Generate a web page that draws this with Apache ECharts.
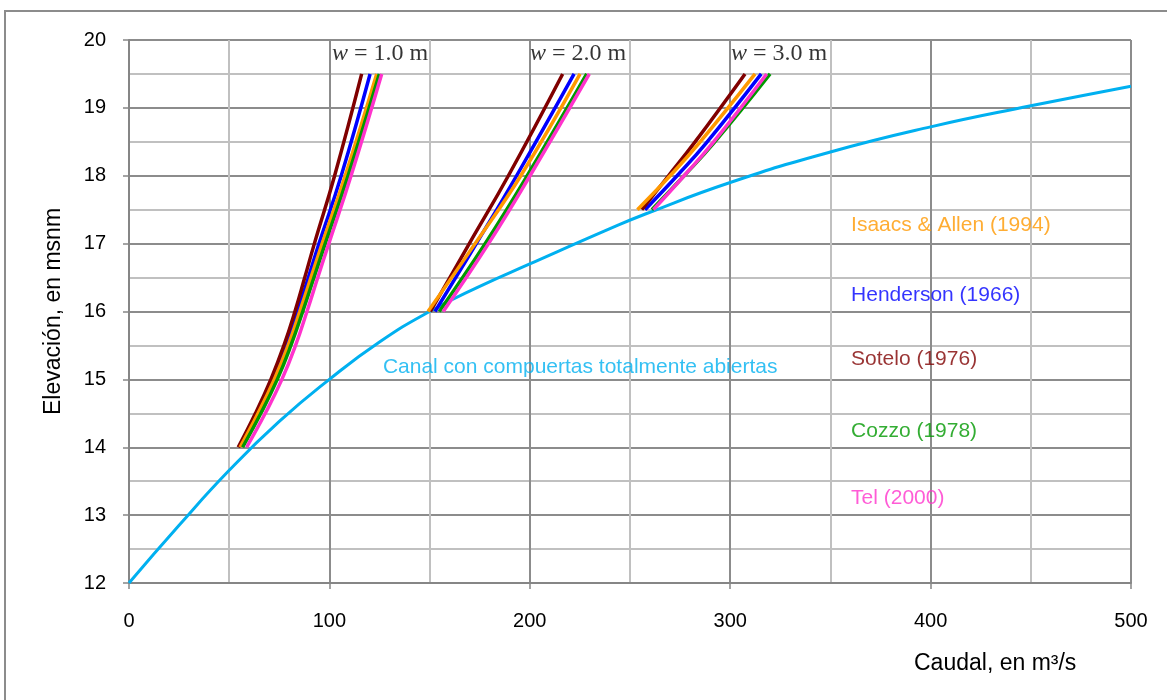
<!DOCTYPE html>
<html><head><meta charset="utf-8">
<script src="https://cdn.jsdelivr.net/npm/echarts@6/dist/echarts.min.js"></script>
<style>html,body{margin:0;padding:0;background:#fff}#c{width:1167px;height:700px}</style>
</head><body><div id="c"></div>
<script>
// Canal con compuertas totalmente abiertas: [caudal, elevación]
const canal = [[0,12],[25,12.85],[50,13.66],[75,14.38],[100,15],[125,15.55],[150,16],[175,16.37],[200,16.7],[240,17.22],[258,17.44],[300,17.9],[350,18.35],[400,18.72],[450,19.03],[500,19.32]];

// w = 1.0 m
const sotelo1 = [[54.5,14],[63.1,14.5],[70.8,15],[77.3,15.5],[82.8,16],[87.7,16.5],[92.5,17],[102.6,18],[116.1,19.5]];
const hend1   = [[55.0,14],[63.8,14.5],[71.7,15],[78.4,15.5],[84.1,16],[89.5,16.5],[94.8,17],[105.9,18],[120.3,19.5]];
const isaacs1 = [[55.4,14],[64.4,14.5],[72.5,15],[79.4,15.5],[85.2,16],[90.8,16.5],[96.4,17],[107.9,18],[123.6,19.5]];
const cozzo1  = [[56.7,14],[65.8,14.5],[74.0,15],[80.8,15.5],[86.7,16],[92.3,16.5],[97.9,17],[109.3,18],[124.9,19.5]];
const tel1    = [[58.7,14],[68.0,14.5],[76.3,15],[83.1,15.5],[88.8,16],[94.2,16.5],[99.7,17],[110.8,18],[126.1,19.5]];
// w = 2.0 m
const sotelo2 = [[150.4,16],[169.8,17],[189.3,18],[216.4,19.5]];
const hend2   = [[152.7,16],[173.3,17],[193.4,18],[222.1,19.5]];
const isaacs2 = [[149.2,16],[172.7,17],[195.5,18],[225.1,19.5]];
const cozzo2  = [[154.8,16],[177.7,17],[198.7,18],[228.4,19.5]];
const tel2    = [[156.8,16],[179.4,17],[200.1,18],[229.7,19.5]];
// w = 3.0 m
const sotelo3 = [[255.9,17.5],[269.2,18],[282.0,18.48],[307.4,19.5]];
const hend3   = [[257.5,17.5],[273.5,18],[288.0,18.48],[315.5,19.5]];
const isaacs3 = [[253.7,17.5],[270.0,18],[284.5,18.48],[312.4,19.5]];
const cozzo3  = [[260.9,17.5],[277.0,18],[291.8,18.48],[319.9,19.5]];
const tel3    = [[261.7,17.5],[277.0,18],[291.2,18.48],[318.2,19.5]];

const xTicks = [0,100,200,300,400,500];
const yTicks = [12,13,14,15,16,17,18,19,20];

// annotations: [x, y, text, colour]
const seriesLabels = [
  [360.3,17.27,'Isaacs & Allen (1994)','#FF9900'],
  [360.3,16.24,'Henderson (1966)','#0000FF'],
  [360.3,15.30,'Sotelo (1976)','#800000'],
  [360.3,14.24,'Cozzo (1978)','#009900'],
  [360.3,13.25,'Tel (2000)','#FF33CC'],
  [126.7,15.18,'Canal con compuertas totalmente abiertas','#00B0F0']
];
const wLabels = [[101.3,19.80,'1.0'],[200.1,19.80,'2.0'],[300.4,19.80,'3.0']];

const COL = {sotelo:'#800000', hend:'#0000FF', isaacs:'#FF9900', cozzo:'#009900', tel:'#FF33CC', canal:'#00B0F0'};
function line(data,color,w,s){return {type:'line',data:data,smooth:s,showSymbol:false,symbol:'none',lineStyle:{color:color,width:w},z:3,animation:false};}

const series = [];
[[hend1,hend2,hend3,'hend'],[sotelo1,sotelo2,sotelo3,'sotelo'],[isaacs1,isaacs2,isaacs3,'isaacs'],[cozzo1,cozzo2,cozzo3,'cozzo'],[tel1,tel2,tel3,'tel']].forEach(g=>{
  for(let i=0;i<3;i++) series.push(line(g[i],COL[g[3]],3.5,0.45));
});
series.unshift(line(canal,COL.canal,3,0.5));
series.push({type:'scatter',symbolSize:0,animation:false,z:5,
  data:seriesLabels.map(d=>({value:[d[0],d[1]],label:{show:true,position:'right',distance:0,formatter:d[2],color:d[3],fontSize:21,fontFamily:'Liberation Sans, Arial'}}))});
series.push({type:'scatter',symbolSize:0,animation:false,z:5,
  data:wLabels.map(d=>({value:[d[0],d[1]],label:{show:true,position:'right',distance:0,formatter:'{i|w} = '+d[2]+' m',color:'#000',fontSize:24,fontFamily:'Liberation Serif',rich:{i:{fontStyle:'italic',fontSize:24,fontFamily:'Liberation Serif',color:'#000'}}}}))});

const chart = echarts.init(document.getElementById('c'),null,{renderer:'canvas'});
chart.setOption({
  animation:false,
  backgroundColor:'#fff',
  grid:{left:129,right:36,top:40,bottom:117},
  xAxis:{type:'value',min:xTicks[0],max:xTicks[xTicks.length-1],interval:100,
    axisLine:{show:true,lineStyle:{color:'#868686',width:2}},
    axisTick:{show:true,length:6,lineStyle:{color:'#868686',width:1.5}},
    axisLabel:{color:'#000',fontSize:20,fontFamily:'Liberation Sans, Arial',margin:28},
    splitLine:{show:true,lineStyle:{color:'#8c8c8c',width:2}},
    minorTick:{show:false,splitNumber:2},
    minorSplitLine:{show:true,lineStyle:{color:'#c0c0c0',width:2}}},
  yAxis:{type:'value',min:yTicks[0],max:yTicks[yTicks.length-1],interval:1,
    name:'Elevación, en msnm',nameLocation:'middle',nameGap:64,nameRotate:90,
    nameTextStyle:{color:'#000',fontSize:23,fontFamily:'Liberation Sans, Arial'},
    axisLine:{show:true,lineStyle:{color:'#868686',width:2}},
    axisTick:{show:true,length:6,lineStyle:{color:'#868686',width:1.5}},
    axisLabel:{color:'#000',fontSize:20,fontFamily:'Liberation Sans, Arial',margin:23},
    splitLine:{show:true,lineStyle:{color:'#8c8c8c',width:2}},
    minorTick:{show:false,splitNumber:2},
    minorSplitLine:{show:true,lineStyle:{color:'#c0c0c0',width:2}}},
  graphic:[
    {type:'rect',shape:{x:5,y:11,width:1300,height:900},style:{fill:'none',stroke:'#8c8c8c',lineWidth:2},silent:true,z:-1},
    {type:'text',left:914,top:652,style:{text:'Caudal, en m³/s',fill:'#000',fontSize:23,fontFamily:'Liberation Sans, Arial'}}
  ],
  series:series
});
</script></body></html>
